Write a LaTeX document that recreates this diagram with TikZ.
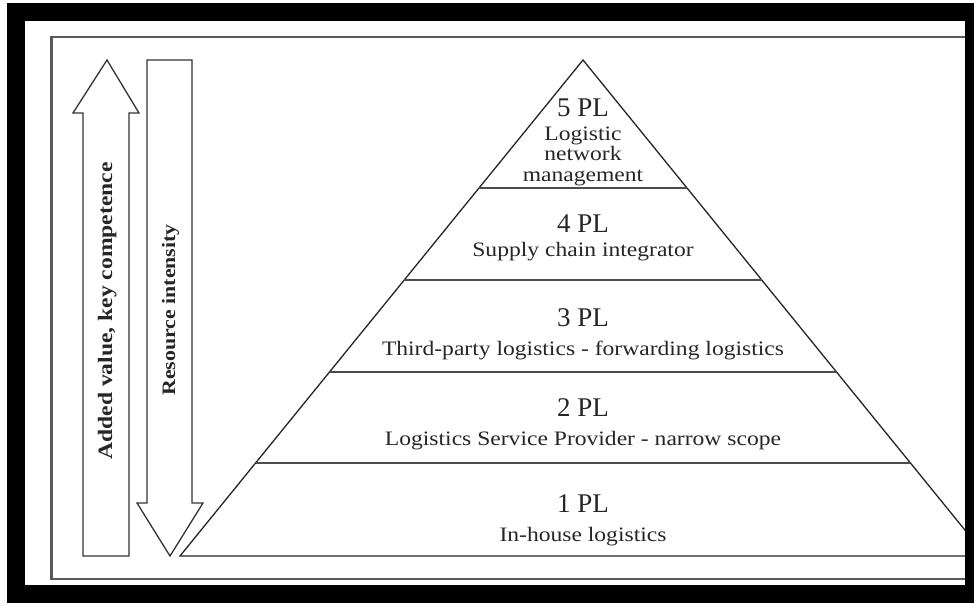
\documentclass[tikz,border=0pt]{standalone}
\usepackage{fontspec}
\setmainfont{Liberation Serif}
\newfontfamily\descfont[FakeStretch=1.15]{Liberation Serif}
\usetikzlibrary{calc}
\tikzset{
  tier/.style={font={\fontsize{27}{30}\selectfont}, text=black!85, inner sep=0pt, anchor=base},
  desc/.style={font={\descfont\fontsize{20.5}{20.5}\selectfont}, text=black!85, inner sep=0pt, anchor=base},
  vlabel/.style={font={\descfont\bfseries\fontsize{20.5}{22}\selectfont}, text=black!85, rotate=90, inner sep=0pt, anchor=base},
  vlabelsmall/.style={vlabel, font={\descfont\bfseries\fontsize{19}{21}\selectfont}},
  outline/.style={draw=black!80, line width=1.3pt, fill=white, line join=miter},
  divider/.style={draw=black!70, line width=2pt},
  boxline/.style={draw=black!65, line width=2.5pt},
}
\begin{document}
\begin{tikzpicture}[x=1pt,y=-1pt]
\useasboundingbox (0,0) rectangle (974,605);
\fill[white] (0,0) rectangle (974,605);
\fill[black] (7,3) rectangle (974,603);
\fill[white] (25,21) rectangle (965,585);
\begin{scope}
  \clip (25,21) rectangle (965,585);
  \draw[boxline] (51.5,37) rectangle (1000,579);
  % up arrow
  \draw[outline] (107,60) -- (139,113) -- (129,113) -- (129,556) -- (83,556) -- (83,113) -- (73,113) -- cycle;
  % down arrow
  \draw[outline] (147,60) -- (192,60) -- (192,503) -- (203,503) -- (170,556) -- (137,503) -- (147,503) -- cycle;
  % pyramid
  \coordinate (apex) at (583,60);
  \coordinate (bl) at (180,556);
  \coordinate (br) at (986,556);
  \draw[draw=black!85, line width=1.3pt, line join=miter] (apex) -- (bl) -- (br) -- cycle;
  \foreach \t in {0.258,0.4435,0.629,0.8125}{
    \draw[divider] ($(apex)!\t!(bl)$) -- ($(apex)!\t!(br)$);
  }
\end{scope}
% labels
\node[vlabel] (added) at (112,311) {Added value, key competence};
\node[vlabelsmall] (res) at (175,310) {Resource intensity};
\node[tier] (p5) at (583,116) {5 PL};
\node[desc] (d5a) at (583,140) {Logistic};
\node[desc] (d5b) at (583,160.5) {network};
\node[desc] (d5c) at (583,181) {management};
\node[tier] (p4) at (583,232) {4 PL};
\node[desc] (d4) at (583,256) {Supply chain integrator};
\node[tier] (p3) at (583,326) {3 PL};
\node[desc] (d3) at (583,355) {Third-party logistics - forwarding logistics};
\node[tier] (p2) at (583,416) {2 PL};
\node[desc] (d2) at (583,445) {Logistics Service Provider - narrow scope};
\node[tier] (p1) at (583,512) {1 PL};
\node[desc] (d1) at (583,541) {In-house logistics};
\end{tikzpicture}
\end{document}
